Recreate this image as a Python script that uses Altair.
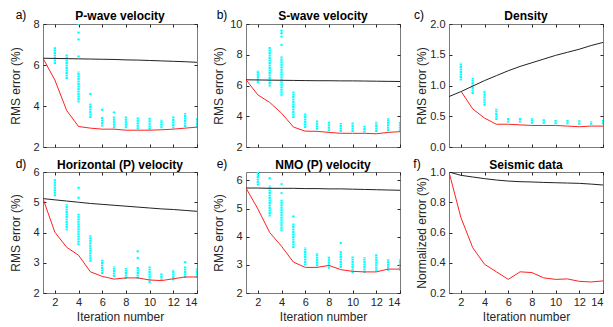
import altair as alt
import pandas as pd

ITER = list(range(1, 15))
COL_IT = list(range(2, 15))
XTICKS = [2, 4, 6, 8, 10, 12, 14]

# ---------------- panel a: P-wave velocity ----------------
a_black = [6.33, 6.32, 6.31, 6.30, 6.29, 6.28, 6.27, 6.25, 6.24, 6.22, 6.20, 6.18, 6.16, 6.13]
a_red = [6.33, 5.27, 3.78, 3.00, 2.92, 2.87, 2.87, 2.82, 2.82, 2.82, 2.84, 2.87, 2.92, 2.97]
a_lo = [6.05, 5.32, 4.17, 3.41, 3.00, 2.92, 2.92, 2.87, 2.84, 2.92, 2.90, 2.97, 2.95]
a_hi = [6.86, 6.54, 5.68, 4.14, 3.49, 3.49, 3.49, 3.44, 3.44, 3.33, 3.49, 3.66, 3.40]
a_out_it = [4, 4, 4, 4, 5, 6, 7]
a_out_v = [8.00, 7.58, 7.25, 6.42, 4.59, 3.82, 3.69]

# ---------------- panel b: S-wave velocity ----------------
b_black = [6.37, 6.36, 6.35, 6.34, 6.33, 6.32, 6.31, 6.31, 6.30, 6.30, 6.29, 6.28, 6.27, 6.26]
b_red = [6.37, 5.39, 4.90, 4.20, 3.30, 3.03, 3.02, 2.95, 2.89, 2.89, 2.89, 2.86, 2.95, 3.00]
b_lo = [6.15, 5.94, 5.33, 3.88, 3.23, 3.12, 3.02, 2.97, 2.97, 2.95, 2.97, 3.02, 3.02]
b_hi = [6.97, 8.53, 7.88, 5.61, 4.20, 3.73, 3.66, 3.56, 3.60, 3.38, 3.66, 3.88, 3.66]
b_out_it = [4, 4, 4, 4]
b_out_v = [9.57, 9.40, 9.18, 8.64]

# ---------------- panel c: Density ----------------
c_black = [0.82, 0.90, 0.99, 1.08, 1.16, 1.24, 1.31, 1.37, 1.43, 1.49, 1.54, 1.59, 1.65, 1.70]
c_red = [None, 0.91, 0.62, 0.47, 0.37, 0.37, 0.36, 0.35, 0.35, 0.35, 0.34, 0.33, 0.34, 0.34]
c_lo = [1.08, 0.86, 0.67, 0.44, 0.40, 0.40, 0.38, 0.38, 0.37, 0.37, 0.36, 0.36, 0.37]
c_hi = [1.37, 1.12, 0.92, 0.62, 0.47, 0.47, 0.47, 0.45, 0.44, 0.44, 0.44, 0.42, 0.44]
c_out_it = []
c_out_v = []

# ---------------- panel d: Horizontal (P) velocity ----------------
d_black = [5.12, 5.08, 5.04, 5.00, 4.96, 4.93, 4.90, 4.87, 4.84, 4.81, 4.78, 4.76, 4.73, 4.70]
d_red = [5.12, 4.01, 3.51, 3.25, 2.70, 2.55, 2.46, 2.50, 2.50, 2.43, 2.41, 2.47, 2.53, 2.53]
d_lo = [5.20, 4.07, 3.58, 3.03, 2.63, 2.53, 2.46, 2.46, 2.33, 2.41, 2.41, 2.50, 2.50]
d_hi = [5.76, 4.93, 4.62, 3.91, 3.10, 2.88, 2.83, 2.88, 2.88, 2.66, 2.77, 2.88, 2.83]
d_out_it = [4, 4, 9, 9, 13]
d_out_v = [5.48, 5.15, 3.38, 3.16, 3.02]

# ---------------- panel e: NMO (P) velocity ----------------
e_black = [5.73, 5.73, 5.72, 5.72, 5.72, 5.71, 5.71, 5.70, 5.70, 5.69, 5.68, 5.67, 5.66, 5.65]
e_red = [5.73, 4.99, 4.15, 3.66, 3.10, 2.91, 2.91, 2.98, 2.83, 2.77, 2.75, 2.75, 2.85, 2.85]
e_lo = [5.82, 4.72, 4.19, 3.60, 2.98, 2.95, 2.86, 2.89, 2.71, 2.71, 2.77, 2.79, 2.79]
e_hi = [6.30, 5.82, 5.31, 4.49, 3.62, 3.42, 3.30, 3.48, 3.30, 3.27, 3.38, 3.20, 3.20]
e_out_it = [3, 4, 4, 5, 9]
e_out_v = [6.08, 5.87, 5.55, 4.72, 3.78]

# ---------------- panel f: Seismic data ----------------
f_black = [1.000, 0.978, 0.967, 0.956, 0.947, 0.940, 0.936, 0.934, 0.931, 0.929, 0.927, 0.925, 0.920, 0.914]
f_red = [1.000, 0.700, 0.500, 0.390, 0.340, 0.290, 0.340, 0.335, 0.300, 0.290, 0.293, 0.277, 0.273, 0.280]

FONT = "Liberation Sans"
W = 154


def panel(title, label, lab_dx, lab_dy, tit_dy, black, red, lo, hi, out_it, out_v,
          ydom, yvals, yfmt, ytitle, bottom, h):
    lines = pd.DataFrame({"it": ITER, "black": black, "red": red})
    xaxis_kw = dict(values=XTICKS, labels=bottom, grid=True,
                    gridDash=[3, h - 6, 3, 1000], gridColor="#262626",
                    gridOpacity=1, gridWidth=1, ticks=False, tickSize=0,
                    domain=False, labelFontSize=11, labelColor="#262626",
                    labelPadding=3, labelFont=FONT, titleFont=FONT,
                    titleFontSize=12, titleFontWeight="normal",
                    titleColor="#262626", titlePadding=4)
    if bottom:
        xaxis = alt.Axis(title="Iteration number", **xaxis_kw)
    else:
        xaxis = alt.Axis(title=None, **xaxis_kw)
    yaxis = alt.Axis(title=ytitle, values=yvals, format=yfmt, grid=True,
                     gridDash=[3, W - 6, 3, 1000], gridColor="#262626",
                     gridOpacity=1, gridWidth=1, ticks=False, tickSize=0,
                     domain=False, labelFontSize=11, labelColor="#262626",
                     labelPadding=4, labelFont=FONT, titleFont=FONT,
                     titleFontSize=12, titleFontWeight="normal",
                     titleColor="#262626", titlePadding=5,
                     minExtent=16, maxExtent=16)
    xs = alt.Scale(domain=[1, 14], nice=False)
    ys = alt.Scale(domain=ydom, nice=False)
    x = alt.X("it:Q", scale=xs, axis=xaxis)

    layers = []
    if lo:
        cols = pd.DataFrame({"it": COL_IT, "lo": lo, "hi": hi})
        layers.append(
            alt.Chart(cols).mark_rule(color="#00ffff", strokeWidth=2.3,
                                      strokeDash=[2, 0.5], clip=True)
            .encode(x=x, y=alt.Y("lo:Q", scale=ys, axis=yaxis), y2="hi:Q"))
    if out_it:
        outs = pd.DataFrame({"it": out_it, "v": out_v})
        layers.append(
            alt.Chart(outs).mark_circle(color="#00ffff", size=6, opacity=1,
                                        clip=True)
            .encode(x=x, y=alt.Y("v:Q", scale=ys, axis=yaxis)))
    layers.append(
        alt.Chart(lines).mark_line(color="#222222", strokeWidth=1, clip=True)
        .encode(x=x, y=alt.Y("black:Q", scale=ys, axis=yaxis)))
    layers.append(
        alt.Chart(lines).mark_line(color="#ff2020", strokeWidth=1, clip=True)
        .encode(x=x, y=alt.Y("red:Q", scale=ys, axis=yaxis)))
    lab = pd.DataFrame({"t": [label]})
    layers.append(
        alt.Chart(lab).mark_text(fontSize=12, font=FONT, color="black",
                                 align="center", baseline="middle")
        .encode(text="t:N", x=alt.value(lab_dx), y=alt.value(lab_dy)))
    tit = pd.DataFrame({"t": [title]})
    layers.append(
        alt.Chart(tit).mark_text(fontSize=12, font=FONT, fontWeight="bold",
                                 color="black", align="center", baseline="middle")
        .encode(text="t:N", x=alt.value(W / 2), y=alt.value(tit_dy)))
    return alt.layer(*layers).properties(width=W, height=h)


HT, HB = 123, 121
pa = panel("P-wave velocity", "a)", -22, -9, -8, a_black, a_red, a_lo, a_hi,
           a_out_it, a_out_v, [2, 8], [2, 4, 6, 8], "d", "RMS error (%)", False, HT)
pb = panel("S-wave velocity", "b)", -24, -9, -8, b_black, b_red, b_lo, b_hi,
           b_out_it, b_out_v, [2, 10], [2, 4, 6, 8, 10], "d", "RMS error (%)", False, HT)
pc = panel("Density", "c)", -30, -9, -8, c_black, c_red, c_lo, c_hi,
           c_out_it, c_out_v, [0, 2], [0, 0.5, 1, 1.5, 2], ".1f", "RMS error (%)", False, HT)
pd_ = panel("Horizontal (P) velocity", "d)", -22, -8, -7, d_black, d_red, d_lo, d_hi,
            d_out_it, d_out_v, [2, 6], [2, 3, 4, 5, 6], "d", "RMS error (%)", True, HB)
pe = panel("NMO (P) velocity", "e)", -24, -8, -7, e_black, e_red, e_lo, e_hi,
           e_out_it, e_out_v, [2, 6.3], [2, 3, 4, 5, 6], "d", "RMS error (%)", True, HB)
pf = panel("Seismic data", "f)", -32, -8, -7, f_black, f_red, [], [],
           [], [], [0.2, 1.0], [0.2, 0.4, 0.6, 0.8, 1.0], ".1f",
           "Normalized error (%)", True, HB)

chart = alt.concat(pa, pb, pc, pd_, pe, pf, columns=3,
                   spacing={"row": 25, "column": 49}, bounds="flush").properties(
    padding={"left": 0, "top": 0, "right": 0, "bottom": 0}
).configure(font=FONT).configure_view(stroke="#7a7a7a", strokeWidth=1)

chart.save("out.html", embed_options={"renderer": "svg", "actions": False})
